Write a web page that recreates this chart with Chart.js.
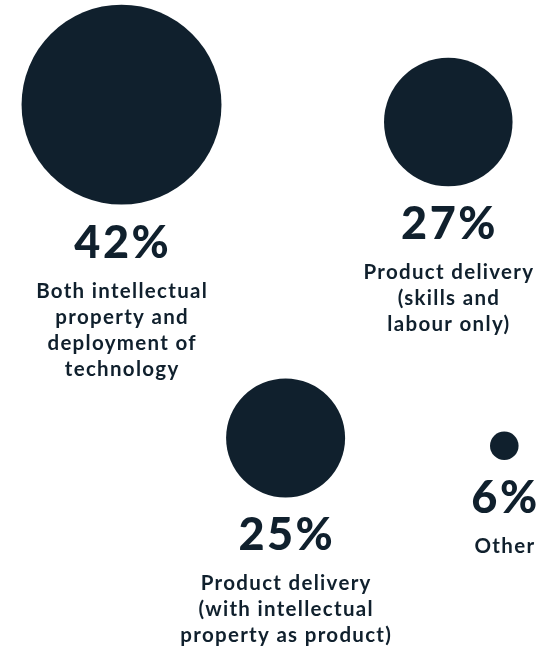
<!DOCTYPE html>
<html>
<head>
<meta charset="utf-8">
<script src="https://cdn.jsdelivr.net/npm/chart.js@4.4.1/dist/chart.umd.min.js"></script>
<style>
  html, body { margin: 0; padding: 0; background: #ffffff; }
  #wrap { position: relative; width: 560px; height: 646px; }
</style>
</head>
<body>
<div id="wrap"><canvas id="chart"></canvas></div>
<script>
// Share of respondents by delivery model
const categories = [
  ['Both intellectual', 'property and', 'deployment of', 'technology'],
  ['Product delivery', '(skills and', 'labour only)'],
  ['Product delivery', '(with intellectual', 'property as product)'],
  ['Other']
];
const shares = [42, 27, 25, 6];

// Where each bubble sits, in percent of the canvas width / height
const slotX = [21.7, 80.05, 51.0, 90.05];
const slotY = [16.2, 18.9, 67.8, 69.0];

const INK = '#10202d';
const RADIUS_PER_POINT = 2.38;   // bubble radius grows linearly with the share
const NUMBER_FONT = '900 45px Lato';
const NUMBER_SPACING = '2.5px';
const TEXT_FONT = '700 20.5px Lato';
const TEXT_SPACING = '1.3px';
const NUMBER_GAP = 53;           // bubble bottom -> number baseline
const FIRST_LINE_GAP = 40;       // number baseline -> first caption baseline
const LINE_HEIGHT = 26;

function centeredText(ctx, text, x, y, spacing) {
  ctx.letterSpacing = spacing;
  // letter spacing also trails the last glyph; shift back by half of it
  ctx.fillText(text, x + parseFloat(spacing) / 2, y);
}

const bubbleLabels = {
  id: 'bubbleLabels',
  afterDatasetsDraw(chart) {
    const ctx = chart.ctx;
    const meta = chart.getDatasetMeta(0);
    ctx.save();
    ctx.fillStyle = INK;
    ctx.textAlign = 'center';
    ctx.textBaseline = 'alphabetic';
    meta.data.forEach((el, i) => {
      const r = el.options.radius;
      const base = el.y + r + NUMBER_GAP;
      ctx.font = NUMBER_FONT;
      centeredText(ctx, shares[i] + '%', el.x, base, NUMBER_SPACING);
      ctx.font = TEXT_FONT;
      categories[i].forEach((line, j) => {
        centeredText(ctx, line, el.x, base + FIRST_LINE_GAP + j * LINE_HEIGHT, TEXT_SPACING);
      });
    });
    ctx.restore();
  }
};

new Chart(document.getElementById('chart'), {
  type: 'bubble',
  data: {
    labels: categories.map(c => c.join(' ')),
    datasets: [{
      data: shares.map((v, i) => ({ x: slotX[i], y: slotY[i], r: v * RADIUS_PER_POINT })),
      backgroundColor: INK,
      borderWidth: 0,
      hoverBorderWidth: 0,
      hoverRadius: 0,
      clip: false
    }]
  },
  options: {
    responsive: true,
    maintainAspectRatio: false,
    animation: false,
    events: [],
    layout: { padding: 0, autoPadding: false },
    plugins: { legend: { display: false }, tooltip: { enabled: false } },
    scales: {
      x: { type: 'linear', min: 0, max: 100, display: false },
      y: { type: 'linear', min: 0, max: 100, reverse: true, display: false }
    }
  },
  plugins: [bubbleLabels]
});
</script>
</body>
</html>
